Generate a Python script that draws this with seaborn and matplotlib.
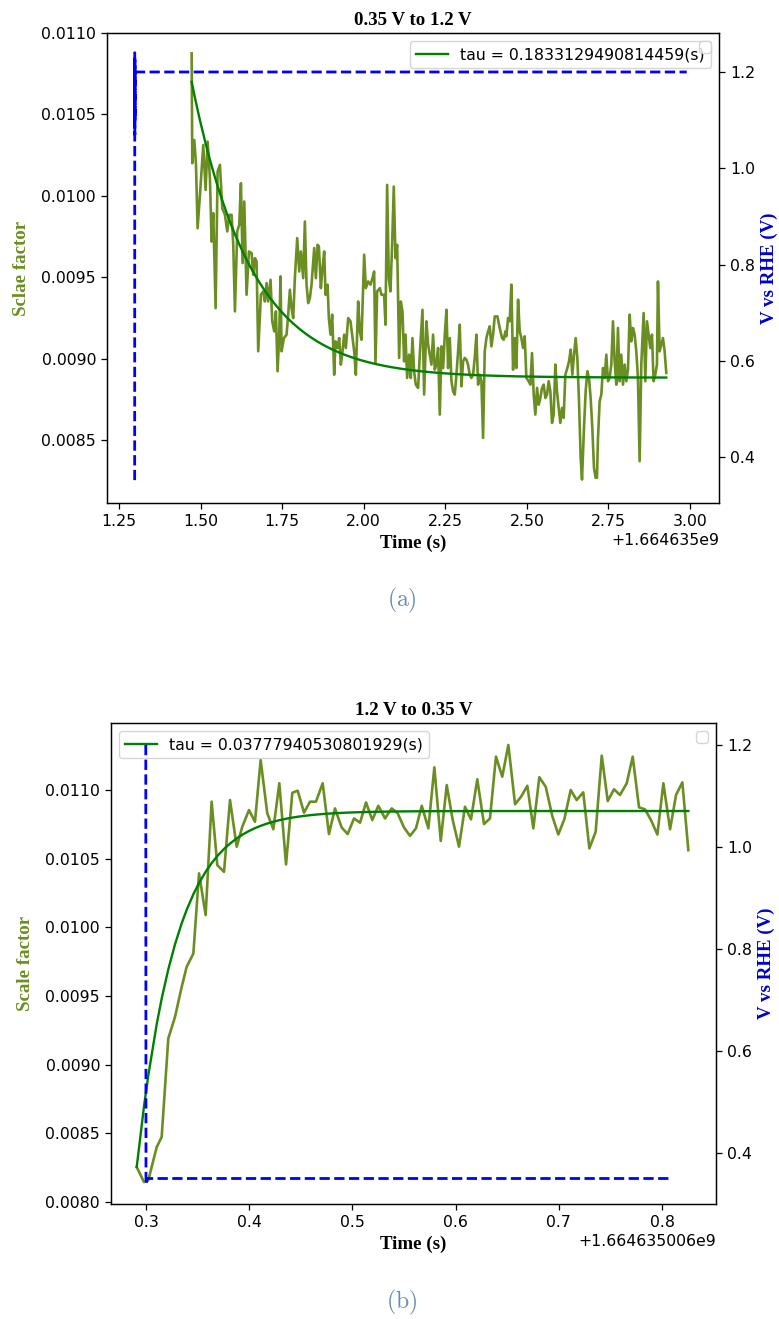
import matplotlib
matplotlib.use("Agg")
import matplotlib.pyplot as plt
import numpy as np
import seaborn as sns

# ---------------- data (a): 0.35 V -> 1.2 V ----------------
t_offset_a = 1664635000.0
time_a = [1.4726, 1.4746, 1.4807, 1.4858, 1.4909, 1.4981, 1.5083, 1.5154, 1.5216, 1.5287,
          1.5338, 1.5389, 1.5461, 1.5522, 1.5593, 1.5665, 1.5747, 1.5818, 1.5879, 1.5951,
          1.6002, 1.6053, 1.6124, 1.6186, 1.6237, 1.6288, 1.6339, 1.6410, 1.6482, 1.6563,
          1.6614, 1.6665, 1.6716, 1.6767, 1.6849, 1.6921, 1.6972, 1.7023, 1.7074, 1.7145,
          1.7196, 1.7258, 1.7309, 1.7360, 1.7411, 1.7451, 1.7482, 1.7554, 1.7635, 1.7686,
          1.7737, 1.7788, 1.7839, 1.7890, 1.7962, 1.8023, 1.8074, 1.8146, 1.8197, 1.8248,
          1.8299, 1.8350, 1.8401, 1.8483, 1.8534, 1.8585, 1.8626, 1.8687, 1.8728, 1.8789,
          1.8830, 1.8891, 1.8932, 1.8983, 1.9034, 1.9095, 1.9136, 1.9197, 1.9248, 1.9299,
          1.9340, 1.9401, 1.9453, 1.9524, 1.9595, 1.9657, 1.9708, 1.9759, 1.9830, 1.9881,
          1.9932, 2.0014, 2.0065, 2.0136, 2.0208, 2.0269, 2.0320, 2.0361, 2.0412, 2.0494,
          2.0545, 2.0626, 2.0667, 2.0718, 2.0769, 2.0820, 2.0871, 2.0922, 2.0974, 2.1025,
          2.1086, 2.1137, 2.1188, 2.1239, 2.1280, 2.1331, 2.1392, 2.1443, 2.1494, 2.1545,
          2.1597, 2.1668, 2.1719, 2.1801, 2.1852, 2.1923, 2.1974, 2.2025, 2.2076, 2.2127,
          2.2178, 2.2229, 2.2280, 2.2332, 2.2383, 2.2434, 2.2485, 2.2536, 2.2587, 2.2638,
          2.2689, 2.2740, 2.2791, 2.2842, 2.2893, 2.2944, 2.2995, 2.3046, 2.3097, 2.3148,
          2.3199, 2.3250, 2.3301, 2.3352, 2.3403, 2.3454, 2.3506, 2.3557, 2.3608, 2.3659,
          2.3710, 2.3761, 2.3812, 2.3863, 2.3914, 2.3965, 2.4016, 2.4098, 2.4169, 2.4241,
          2.4292, 2.4343, 2.4373, 2.4424, 2.4475, 2.4526, 2.4578, 2.4629, 2.4680, 2.4731,
          2.4782, 2.4833, 2.4884, 2.4935, 2.4986, 2.5057, 2.5108, 2.5159, 2.5210, 2.5261,
          2.5313, 2.5364, 2.5415, 2.5466, 2.5517, 2.5568, 2.5619, 2.5670, 2.5721, 2.5772,
          2.5823, 2.5874, 2.5925, 2.5976, 2.6027, 2.6078, 2.6129, 2.6180, 2.6242, 2.6293,
          2.6344, 2.6395, 2.6446, 2.6497, 2.6548, 2.6599, 2.6650, 2.6691, 2.6752, 2.6803,
          2.6854, 2.6905, 2.6956, 2.7007, 2.7058, 2.7109, 2.7150, 2.7181, 2.7232, 2.7283,
          2.7334, 2.7385, 2.7436, 2.7487, 2.7538, 2.7589, 2.7640, 2.7691, 2.7742, 2.7793,
          2.7844, 2.7895, 2.7947, 2.7998, 2.8049, 2.8100, 2.8151, 2.8202, 2.8253, 2.8304,
          2.8355, 2.8406, 2.8457, 2.8508, 2.8580, 2.8631, 2.8682, 2.8733, 2.8784, 2.8835,
          2.8886, 2.8937, 2.8988, 2.9019, 2.9070, 2.9121, 2.9172, 2.9223, 2.9274]
scale_a = [10.875e-3, 10.200e-3, 10.343e-3, 10.200e-3, 9.801e-3, 10.006e-3, 10.312e-3, 10.036e-3, 10.333e-3, 10.108e-3,
           9.719e-3, 9.893e-3, 9.310e-3, 10.149e-3, 10.190e-3, 9.924e-3, 9.883e-3, 9.781e-3, 9.883e-3, 9.883e-3,
           9.699e-3, 9.290e-3, 9.781e-3, 9.822e-3, 10.077e-3, 9.587e-3, 9.965e-3, 9.392e-3, 9.658e-3, 9.648e-3,
           9.515e-3, 9.617e-3, 9.597e-3, 9.045e-3, 9.392e-3, 9.413e-3, 9.351e-3, 9.464e-3, 9.351e-3, 9.484e-3,
           9.229e-3, 9.167e-3, 9.290e-3, 8.922e-3, 9.147e-3, 9.505e-3, 9.045e-3, 9.126e-3, 9.147e-3, 9.270e-3,
           9.423e-3, 9.310e-3, 9.249e-3, 9.494e-3, 9.740e-3, 9.535e-3, 9.658e-3, 9.494e-3, 9.842e-3, 9.454e-3,
           9.341e-3, 9.372e-3, 9.454e-3, 9.679e-3, 9.494e-3, 9.699e-3, 9.689e-3, 9.433e-3, 9.535e-3, 9.658e-3,
           9.392e-3, 9.454e-3, 9.249e-3, 9.147e-3, 9.270e-3, 8.901e-3, 9.106e-3, 9.065e-3, 9.126e-3, 8.963e-3,
           9.024e-3, 9.147e-3, 9.065e-3, 9.249e-3, 9.229e-3, 9.126e-3, 9.045e-3, 8.901e-3, 9.351e-3, 9.167e-3,
           9.116e-3, 9.638e-3, 9.433e-3, 9.474e-3, 9.454e-3, 9.494e-3, 9.535e-3, 8.973e-3, 9.413e-3, 9.433e-3,
           9.392e-3, 9.392e-3, 9.208e-3, 10.067e-3, 9.494e-3, 9.413e-3, 9.699e-3, 10.057e-3, 9.617e-3, 9.699e-3,
           9.004e-3, 9.351e-3, 9.290e-3, 8.983e-3, 9.147e-3, 8.881e-3, 9.024e-3, 8.881e-3, 9.126e-3, 8.922e-3,
           8.840e-3, 8.820e-3, 9.024e-3, 9.300e-3, 8.779e-3, 9.229e-3, 9.086e-3, 9.024e-3, 8.963e-3, 9.147e-3,
           8.932e-3, 8.963e-3, 9.065e-3, 8.656e-3, 9.075e-3, 8.942e-3, 9.147e-3, 9.300e-3, 8.942e-3, 9.126e-3,
           8.861e-3, 8.799e-3, 8.779e-3, 8.901e-3, 9.045e-3, 9.208e-3, 8.830e-3, 8.983e-3, 9.004e-3, 8.993e-3,
           8.963e-3, 8.901e-3, 8.881e-3, 8.901e-3, 9.004e-3, 9.147e-3, 8.840e-3, 8.901e-3, 8.861e-3, 8.513e-3,
           9.045e-3, 9.126e-3, 9.167e-3, 9.198e-3, 9.075e-3, 9.147e-3, 9.259e-3, 9.259e-3, 9.188e-3, 9.126e-3,
           9.116e-3, 9.167e-3, 9.137e-3, 9.249e-3, 9.229e-3, 9.454e-3, 8.932e-3, 9.126e-3, 8.942e-3, 9.362e-3,
           9.167e-3, 9.126e-3, 9.065e-3, 9.137e-3, 8.881e-3, 8.861e-3, 8.840e-3, 9.034e-3, 8.779e-3, 8.656e-3,
           8.820e-3, 8.717e-3, 8.758e-3, 8.820e-3, 8.840e-3, 8.758e-3, 8.779e-3, 8.861e-3, 8.799e-3, 8.605e-3,
           8.656e-3, 8.963e-3, 8.799e-3, 8.697e-3, 8.605e-3, 8.697e-3, 8.636e-3, 8.901e-3, 8.942e-3, 8.983e-3,
           9.055e-3, 8.901e-3, 9.024e-3, 9.126e-3, 9.004e-3, 8.738e-3, 8.390e-3, 8.257e-3, 8.574e-3, 8.799e-3,
           8.922e-3, 8.881e-3, 8.758e-3, 8.574e-3, 8.329e-3, 8.268e-3, 8.268e-3, 8.513e-3, 8.738e-3, 8.779e-3,
           8.942e-3, 8.881e-3, 9.024e-3, 8.861e-3, 8.881e-3, 8.963e-3, 9.229e-3, 8.983e-3, 8.840e-3, 9.188e-3,
           8.861e-3, 9.024e-3, 8.840e-3, 8.963e-3, 8.861e-3, 8.932e-3, 9.270e-3, 9.106e-3, 9.188e-3, 9.147e-3,
           9.045e-3, 8.881e-3, 8.370e-3, 8.963e-3, 9.280e-3, 8.861e-3, 9.229e-3, 9.147e-3, 9.065e-3, 9.147e-3,
           8.861e-3, 8.901e-3, 8.963e-3, 9.474e-3, 9.045e-3, 9.086e-3, 9.126e-3, 9.045e-3, 8.912e-3]
fit_a_t0 = 1.4726
fit_a_start = 10.70e-3
fit_a_plateau = 8.883e-3
tau_a = 0.1833129490814459
volt_time_a = [1.2980, 1.2983, 1.2985, 1.2987, 1.2989, 1.2990, 2.9900]
volt_a = [0.352, 1.240, 1.070, 1.225, 1.100, 1.200, 1.200]

# ---------------- data (b): 1.2 V -> 0.35 V ----------------
t_offset_b = 1664635006.0
time_b = [0.2910, 0.2981, 0.3022, 0.3104, 0.3152, 0.3216, 0.3281, 0.3346, 0.3394, 0.3459,
          0.3514, 0.3578, 0.3636, 0.3691, 0.3756, 0.3814, 0.3879, 0.3933, 0.3998, 0.4056,
          0.4111, 0.4175, 0.4234, 0.4292, 0.4357, 0.4418, 0.4470, 0.4531, 0.4589, 0.4647,
          0.4712, 0.4773, 0.4831, 0.4896, 0.4954, 0.5016, 0.5074, 0.5132, 0.5193, 0.5251,
          0.5316, 0.5381, 0.5439, 0.5500, 0.5558, 0.5616, 0.5672, 0.5736, 0.5794, 0.5856,
          0.5914, 0.5972, 0.6033, 0.6091, 0.6149, 0.6210, 0.6275, 0.6333, 0.6391, 0.6452,
          0.6511, 0.6576, 0.6634, 0.6695, 0.6753, 0.6811, 0.6873, 0.6937, 0.6995, 0.7053,
          0.7115, 0.7173, 0.7237, 0.7296, 0.7357, 0.7416, 0.7474, 0.7535, 0.7593, 0.7658,
          0.7716, 0.7777, 0.7835, 0.7893, 0.7955, 0.8013, 0.8078, 0.8136, 0.8197, 0.8255]
scale_b = [8.254e-3, 8.145e-3, 8.157e-3, 8.400e-3, 8.473e-3, 9.190e-3, 9.347e-3, 9.566e-3, 9.712e-3, 9.809e-3,
           10.393e-3, 10.089e-3, 10.915e-3, 10.453e-3, 10.404e-3, 10.927e-3, 10.587e-3, 10.732e-3, 10.854e-3, 10.769e-3,
           11.219e-3, 10.830e-3, 10.714e-3, 11.049e-3, 10.458e-3, 10.980e-3, 10.995e-3, 10.835e-3, 10.915e-3, 10.915e-3,
           11.049e-3, 10.679e-3, 10.866e-3, 10.727e-3, 10.679e-3, 10.793e-3, 10.762e-3, 10.910e-3, 10.781e-3, 10.885e-3,
           10.793e-3, 10.866e-3, 10.830e-3, 10.727e-3, 10.666e-3, 10.721e-3, 10.885e-3, 10.721e-3, 11.165e-3, 10.629e-3,
           11.036e-3, 10.781e-3, 10.587e-3, 10.878e-3, 10.786e-3, 11.078e-3, 10.752e-3, 10.793e-3, 11.243e-3, 11.097e-3,
           11.328e-3, 10.896e-3, 10.951e-3, 11.031e-3, 10.721e-3, 11.093e-3, 11.024e-3, 10.810e-3, 10.676e-3, 10.786e-3,
           11.000e-3, 10.927e-3, 10.983e-3, 10.575e-3, 10.696e-3, 11.250e-3, 10.920e-3, 11.005e-3, 10.964e-3, 11.049e-3,
           11.243e-3, 10.874e-3, 10.859e-3, 10.781e-3, 10.676e-3, 11.049e-3, 10.714e-3, 10.964e-3, 11.056e-3, 10.562e-3]
fit_b_t0 = 0.2910
fit_b_start = 8.254e-3
fit_b_plateau = 10.847e-3
tau_b = 0.03777940530801929
volt_time_b = [0.2998, 0.3000, 0.3004, 0.3010, 0.8080]
volt_b = [1.200, 0.350, 0.338, 0.350, 0.350]

OLIVE = "#6b8e23"
SERIF_BOLD = {"family": "Liberation Serif", "weight": "bold", "size": 13.6}

plt.rcParams.update({
    "font.size": 11.3,
    "legend.fontsize": 11.3,
    "axes.linewidth": 0.9,
    "xtick.major.size": 4.0,
    "ytick.major.size": 4.0,
    "xtick.major.width": 0.9,
    "ytick.major.width": 0.9,
    "xtick.major.pad": 3.9,
    "ytick.major.pad": 3.9,
})


def draw_panel(ax, t_off, t, sf, fit_t0, fit_start, fit_plateau, tau, vt, v,
               title, ylabel, legend_loc, xlim, ylim, vlim, xticks, yticks, vticks):
    t_abs = t_off + np.asarray(t)
    fit = fit_plateau + (fit_start - fit_plateau) * np.exp(-(np.asarray(t) - fit_t0) / tau)

    sns.lineplot(x=t_abs, y=sf, ax=ax, color=OLIVE, linewidth=1.9,
                 estimator=None, sort=False)
    sns.lineplot(x=t_abs, y=fit, ax=ax, color="green", linewidth=1.7,
                 estimator=None, sort=False, label=f"tau = {tau}(s)")
    ax.legend(loc=legend_loc)

    ax.set_xlim(t_off + xlim[0], t_off + xlim[1])
    ax.set_ylim(*ylim)
    ax.set_xticks([t_off + x for x in xticks])
    ax.set_yticks(yticks)
    ax.set_title(title, fontdict=SERIF_BOLD)
    ax.set_xlabel("Time (s)", fontdict=SERIF_BOLD)
    ax.set_ylabel(ylabel, fontdict=SERIF_BOLD, color=OLIVE, labelpad=8)

    ax2 = ax.twinx()
    sns.lineplot(x=t_off + np.asarray(vt), y=v, ax=ax2, color="blue", linewidth=2.0,
                 linestyle="--", estimator=None, sort=False)
    ax2.set_ylim(*vlim)
    ax2.set_yticks(vticks)
    ax2.set_ylabel("V vs RHE (V)", fontdict=SERIF_BOLD, color="mediumblue")
    ax2.legend(handles=[], labels=[], loc="upper right")
    return ax2


fig = plt.figure(figsize=(7.79, 13.19), dpi=100)

ax_a = fig.add_axes([107 / 779, 1 - 503 / 1319, 612 / 779, 470 / 1319])
draw_panel(ax_a, t_offset_a, time_a, scale_a, fit_a_t0, fit_a_start, fit_a_plateau, tau_a,
           volt_time_a, volt_a, "0.35 V to 1.2 V", "Sclae factor", "upper right",
           (1.2132, 3.089), (0.008113, 0.0110), (0.3045, 1.281),
           [1.25, 1.50, 1.75, 2.00, 2.25, 2.50, 2.75, 3.00],
           [0.0085, 0.0090, 0.0095, 0.0100, 0.0105, 0.0110],
           [0.4, 0.6, 0.8, 1.0, 1.2])

ax_b = fig.add_axes([111 / 779, 1 - 1204 / 1319, 605 / 779, 481 / 1319])
draw_panel(ax_b, t_offset_b, time_b, scale_b, fit_b_t0, fit_b_start, fit_b_plateau, tau_b,
           volt_time_b, volt_b, "1.2 V to 0.35 V", "Scale factor", "upper left",
           (0.2661, 0.8523), (0.007985, 0.011488), (0.300, 1.243),
           [0.3, 0.4, 0.5, 0.6, 0.7, 0.8],
           [0.0080, 0.0085, 0.0090, 0.0095, 0.0100, 0.0105, 0.0110],
           [0.4, 0.6, 0.8, 1.0, 1.2])

fig.text(402 / 779, 1 - 600 / 1319, r"$\mathrm{(a)}$", math_fontfamily="cm",
         fontsize=17, color="#6a8caf", ha="center", va="center")
fig.text(402 / 779, 1 - 1302 / 1319, r"$\mathrm{(b)}$", math_fontfamily="cm",
         fontsize=17, color="#6a8caf", ha="center", va="center")

fig.savefig("out.png", dpi=100)
plt.close(fig)
